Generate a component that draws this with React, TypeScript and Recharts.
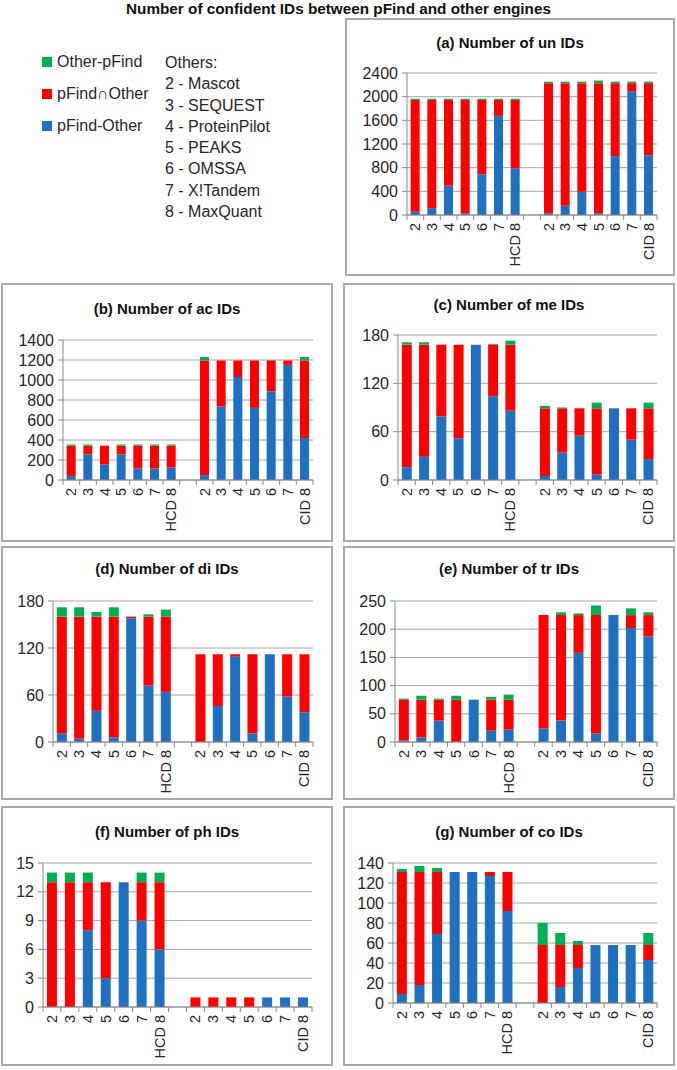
import { BarChart, Bar, XAxis, YAxis, CartesianGrid } from 'recharts';

const categories = ['2', '3', '4', '5', '6', '7', 'HCD 8', '', '2', '3', '4', '5', '6', '7', 'CID 8'];

// un
const unOnlyPfind = [55, 115, 495, 30, 690, 1675, 790, null, 30, 155, 395, 30, 995, 2090, 1010];
const unShared = [1890, 1830, 1450, 1915, 1255, 270, 1155, null, 2198, 2073, 1833, 2198, 1233, 138, 1218];
const unOnlyOther = [20, 20, 20, 20, 20, 20, 20, null, 25, 25, 25, 45, 25, 25, 25];
// ac
const acOnlyPfind = [39, 256, 157, 256, 115, 115, 125, null, 49, 734, 1030, 721, 888, 1152, 420];
const acShared = [304, 87, 186, 87, 228, 228, 218, null, 1146, 461, 165, 474, 307, 43, 775];
const acOnlyOther = [12, 12, 0, 12, 12, 12, 12, null, 35, 0, 0, 0, 3, 0, 35];
// me
const meOnlyPfind = [16, 29, 79, 52, 168, 104, 86, null, 5, 34, 55, 7, 89, 50, 26];
const meShared = [152, 139, 89, 116, 0, 64, 82, null, 84, 55, 34, 82, 0, 39, 63];
const meOnlyOther = [3, 3, 0, 0, 0, 1, 5, null, 3, 1, 0, 7, 0, 0, 7];
// di
const diOnlyPfind = [11, 4, 40, 6, 158, 72, 64, null, 0, 46, 109, 11, 112, 58, 38];
const diShared = [149, 156, 120, 154, 2, 88, 96, null, 112, 66, 3, 101, 0, 54, 74];
const diOnlyOther = [12, 12, 6, 12, 0, 3, 9, null, 0, 0, 0, 0, 0, 0, 0];
// tr
const trOnlyPfind = [3, 8, 38, 0, 75, 20, 22, null, 24, 38, 158, 15, 225, 202, 187];
const trShared = [72, 67, 37, 75, 0, 55, 53, null, 201, 187, 67, 210, 0, 23, 38];
const trOnlyOther = [2, 7, 2, 7, 0, 5, 9, null, 0, 5, 3, 17, 0, 12, 5];
// ph
const phOnlyPfind = [0, 0, 8, 3, 13, 9, 6, null, 0, 0, 0, 0, 1, 1, 1];
const phShared = [13, 13, 5, 10, 0, 4, 7, null, 1, 1, 1, 1, 0, 0, 0];
const phOnlyOther = [1, 1, 1, 0, 0, 1, 1, null, 0, 0, 0, 0, 0, 0, 0];
// co
const coOnlyPfind = [9, 18, 69, 131, 131, 127, 92, null, 0, 16, 35, 58, 58, 58, 43];
const coShared = [122, 113, 62, 0, 0, 4, 39, null, 58, 42, 23, 0, 0, 0, 15];
const coOnlyOther = [3, 6, 4, 0, 0, 0, 0, null, 22, 12, 4, 0, 0, 0, 12];

const unTicks = [0, 400, 800, 1200, 1600, 2000, 2400];
const acTicks = [0, 200, 400, 600, 800, 1000, 1200, 1400];
const meTicks = [0, 60, 120, 180];
const diTicks = [0, 60, 120, 180];
const trTicks = [0, 50, 100, 150, 200, 250];
const phTicks = [0, 3, 6, 9, 12, 15];
const coTicks = [0, 20, 40, 60, 80, 100, 120, 140];

const seriesNames = ['Other-pFind', 'pFind\u2229Other', 'pFind-Other'];
const engineNames = ['2 - Mascot', '3 - SEQUEST', '4 - ProteinPilot', '5 - PEAKS', '6 - OMSSA', '7 - X!Tandem', '8 - MaxQuant'];

const BLUE = '#1f70c1';
const RED = '#ff0000';
const GREEN = '#00b050';
const FONT = '"Liberation Sans", Arial, sans-serif';

interface Box { left: number; top: number; right: number; bottom: number }
interface PanelDef {
  title: string;
  onlyPfind: (number | null)[];
  shared: (number | null)[];
  onlyOther: (number | null)[];
  ticks: number[];
  box: Box;
  plot: Box;
  titleY: number;
}

const panels: PanelDef[] = [
  { title: '(a) Number of un IDs', onlyPfind: unOnlyPfind, shared: unShared, onlyOther: unOnlyOther, ticks: unTicks,
    box: { left: 345, top: 18, right: 675, bottom: 276 }, plot: { left: 407, top: 73, right: 657, bottom: 215 }, titleY: 43 },
  { title: '(b) Number of ac IDs', onlyPfind: acOnlyPfind, shared: acShared, onlyOther: acOnlyOther, ticks: acTicks,
    box: { left: 1, top: 283, right: 333, bottom: 542 }, plot: { left: 63, top: 340, right: 313, bottom: 480 }, titleY: 309 },
  { title: '(c) Number of me IDs', onlyPfind: meOnlyPfind, shared: meShared, onlyOther: meOnlyOther, ticks: meTicks,
    box: { left: 343, top: 283, right: 675, bottom: 542 }, plot: { left: 398, top: 335, right: 657, bottom: 480 }, titleY: 305 },
  { title: '(d) Number of di IDs', onlyPfind: diOnlyPfind, shared: diShared, onlyOther: diOnlyOther, ticks: diTicks,
    box: { left: 1, top: 546, right: 333, bottom: 800 }, plot: { left: 53, top: 601, right: 313, bottom: 742 }, titleY: 569 },
  { title: '(e) Number of tr IDs', onlyPfind: trOnlyPfind, shared: trShared, onlyOther: trOnlyOther, ticks: trTicks,
    box: { left: 343, top: 546, right: 675, bottom: 800 }, plot: { left: 395, top: 601, right: 657, bottom: 742 }, titleY: 569 },
  { title: '(f) Number of ph IDs', onlyPfind: phOnlyPfind, shared: phShared, onlyOther: phOnlyOther, ticks: phTicks,
    box: { left: 1, top: 806, right: 333, bottom: 1066 }, plot: { left: 43, top: 863, right: 312, bottom: 1007 }, titleY: 832 },
  { title: '(g) Number of co IDs', onlyPfind: coOnlyPfind, shared: coShared, onlyOther: coOnlyOther, ticks: coTicks,
    box: { left: 343, top: 806, right: 675, bottom: 1066 }, plot: { left: 393, top: 863, right: 657, bottom: 1003 }, titleY: 832 },
];

function makeTick(band: number, count: number) {
  return function CategoryTick(props: any) {
    const { x, y, payload, index } = props;
    const left = x - band / 2;
    return (
      <g>
        <line x1={left} y1={y} x2={left} y2={y + 5} stroke="#888" />
        {index === count - 1 && <line x1={left + band} y1={y} x2={left + band} y2={y + 5} stroke="#888" />}
        <text
          x={x}
          y={y + 8}
          transform={`rotate(-90, ${x}, ${y + 8})`}
          textAnchor="end"
          dominantBaseline="central"
          fontSize={14.5}
          fontFamily={FONT}
          fill="#262626"
        >
          {payload.value}
        </text>
      </g>
    );
  };
}

function Panel({ p }: { p: PanelDef }) {
  const w = p.box.right - p.box.left;
  const h = p.box.bottom - p.box.top;
  const data = categories.map((c, i) => ({
    name: c,
    onlyPfind: p.onlyPfind[i],
    shared: p.shared[i],
    onlyOther: p.onlyOther[i],
  }));
  const band = (p.plot.right - p.plot.left) / categories.length;
  const Tick = makeTick(band, categories.length);
  const max = p.ticks[p.ticks.length - 1];
  return (
    <>
      <div
        style={{
          position: 'absolute',
          left: p.box.left,
          top: p.box.top,
          width: w,
          height: h,
          border: '2px solid #a9a9a9',
          boxSizing: 'border-box',
        }}
      />
      <div
        style={{
          position: 'absolute',
          left: p.box.left,
          top: p.titleY - 9,
          width: w,
          textAlign: 'center',
          fontWeight: 'bold',
          fontSize: 15,
          lineHeight: '18px',
          color: '#111',
        }}
      >
        {p.title}
      </div>
      <div style={{ position: 'absolute', left: p.box.left, top: p.box.top }}>
        <BarChart
          width={w}
          height={h}
          data={data}
          barCategoryGap="22%"
          margin={{ top: p.plot.top - p.box.top, right: p.box.right - p.plot.right, left: 0, bottom: 0 }}
        >
          <CartesianGrid vertical={false} stroke="#a6a6a6" />
          <XAxis
            dataKey="name"
            height={p.box.bottom - p.plot.bottom}
            interval={0}
            tickSize={0}
            tickMargin={0}
            tickLine={false}
            axisLine={{ stroke: '#888' }}
            tick={<Tick />}
          />
          <YAxis
            width={p.plot.left - p.box.left}
            domain={[0, max]}
            ticks={p.ticks}
            interval={0}
            tickSize={5}
            tickMargin={4}
            axisLine={{ stroke: '#888' }}
            tickLine={{ stroke: '#888' }}
            tick={{ fontSize: 16, fill: '#262626', fontFamily: FONT }}
          />
          <Bar dataKey="onlyPfind" stackId="s" fill={BLUE} isAnimationActive={false} />
          <Bar dataKey="shared" stackId="s" fill={RED} isAnimationActive={false} />
          <Bar dataKey="onlyOther" stackId="s" fill={GREEN} isAnimationActive={false} />
        </BarChart>
      </div>
    </>
  );
}

export default function App() {
  const legendColors = [GREEN, RED, BLUE];
  return (
    <div
      style={{
        position: 'absolute',
        left: 0,
        top: 0,
        width: 677,
        height: 1070,
        background: '#fff',
        fontFamily: FONT,
        overflow: 'hidden',
      }}
    >
      <div
        style={{
          position: 'absolute',
          left: 0,
          top: 0,
          width: 677,
          textAlign: 'center',
          fontWeight: 'bold',
          fontSize: 15.3,
          lineHeight: '17px',
          color: '#111',
        }}
      >
        Number of confident IDs between pFind and other engines
      </div>

      {seriesNames.map((s, i) => (
        <div key={s} style={{ position: 'absolute', left: 42, top: 52 + i * 32, height: 20, display: 'flex', alignItems: 'center' }}>
          <span style={{ width: 10, height: 10, background: legendColors[i], display: 'inline-block', marginRight: 5 }} />
          <span style={{ fontSize: 16, color: '#262626' }}>{s}</span>
        </div>
      ))}

      <div style={{ position: 'absolute', left: 165, top: 52, fontSize: 16, lineHeight: '21.3px', color: '#262626' }}>
        <div>Others:</div>
        {engineNames.map((e) => (
          <div key={e}>{e}</div>
        ))}
      </div>

      {panels.map((p) => (
        <Panel key={p.title} p={p} />
      ))}
    </div>
  );
}
